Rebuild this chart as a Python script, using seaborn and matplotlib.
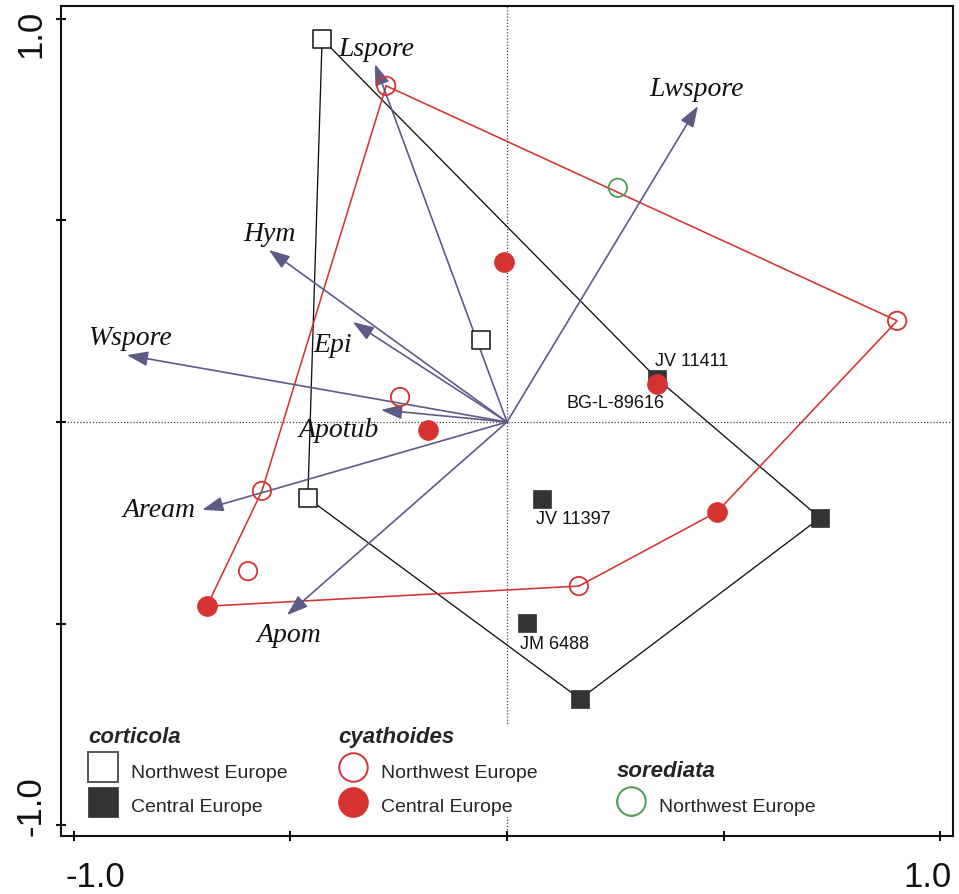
import numpy as np
import pandas as pd
import matplotlib
matplotlib.use("Agg")
import matplotlib.pyplot as plt
import matplotlib.transforms as mtransforms
from matplotlib.lines import Line2D
import seaborn as sns

# ---------------- data: sample scores ----------------
cort_nw_x = [-0.427, -0.060, -0.460]
cort_nw_y = [0.950, 0.203, -0.189]
cort_ce_x = [0.347, 0.081, 0.046, 0.169, 0.723]
cort_ce_y = [0.107, -0.191, -0.499, -0.687, -0.238]
cort_ce_names = ["JV 11411", "JV 11397", "JM 6488", "", ""]

cyat_nw_x = [-0.279, 0.901, -0.247, -0.566, -0.598, 0.166]
cyat_nw_y = [0.834, 0.251, 0.062, -0.171, -0.370, -0.407]
cyat_ce_x = [-0.007, -0.182, 0.346, 0.485, -0.693]
cyat_ce_y = [0.397, -0.020, 0.094, -0.223, -0.457]
cyat_ce_names = ["", "", "BG-L-89616", "", ""]

sore_nw_x = [0.256]
sore_nw_y = [0.581]

# envelope vertex order (group, index)
cort_envelope = [("cort_nw", 0), ("cort_ce", 0), ("cort_ce", 4), ("cort_ce", 3), ("cort_nw", 2)]
cyat_envelope = [("cyat_nw", 0), ("cyat_nw", 1), ("cyat_ce", 3), ("cyat_nw", 5),
                 ("cyat_ce", 4), ("cyat_nw", 3)]

# ---------------- data: variable (arrow) scores ----------------
var_names = ["Lspore", "Lwspore", "Hym", "Epi", "Wspore", "Apotub", "Aream", "Apom"]
var_x = [-0.305, 0.441, -0.550, -0.356, -0.878, -0.291, -0.704, -0.508]
var_y = [0.888, 0.784, 0.427, 0.248, 0.166, 0.030, -0.218, -0.479]

axis_ticks = [-1.0, -0.5, 0.0, 0.5, 1.0]
axis_ticklabels = ["-1.0", "", "", "", "1.0"]

# ---------------- styling ----------------
RED = "#d63232"
DARK = "#333333"
ARROW = "#5e5a86"
GREEN = "#4e9a55"
SANS = "Liberation Sans"
SERIF = "Liberation Serif"

# label offsets in pixels (dx, dy, ha)
var_label_offsets = {
    "Lspore": (1, 16, "center"), "Lwspore": (-1, 17, "center"), "Hym": (1, 16, "center"),
    "Epi": (-20, -22, "center"), "Wspore": (3, 18, "center"), "Apotub": (-42, -20, "center"),
    "Aream": (-7, 0, "right"), "Apom": (2, -19, "center"),
}
name_offsets = {
    "JV 11411": (-2, 18, "left"), "JV 11397": (-6, -19, "left"),
    "JM 6488": (-7, -20, "left"), "BG-L-89616": (8, -18, "right"),
}

sns.set_style("white")
plt.rcParams["font.family"] = [SANS, "DejaVu Sans"]

groups = {
    "cort_nw": (cort_nw_x, cort_nw_y), "cort_ce": (cort_ce_x, cort_ce_y),
    "cyat_nw": (cyat_nw_x, cyat_nw_y), "cyat_ce": (cyat_ce_x, cyat_ce_y),
    "sore_nw": (sore_nw_x, sore_nw_y),
}
rows = []
for g, (xs, ys) in groups.items():
    for i, (xv, yv) in enumerate(zip(xs, ys)):
        rows.append({"group": g, "idx": i, "x": xv, "y": yv})
df = pd.DataFrame(rows)

fig = plt.figure(figsize=(9.59, 8.95), dpi=100)
ax = fig.add_axes([61 / 959, 58 / 895, 892 / 959, 830 / 895])
ax.set_xlim(-1.030, 1.030)
ax.set_ylim(-1.027, 1.032)

ax.axhline(0, ls=(0, (1, 1.5)), color="#444444", lw=0.9, zorder=0.5)
ax.axvline(0, ls=(0, (1, 1.5)), color="#444444", lw=0.9, zorder=0.5)

# envelopes
def envelope(order, color, lw):
    pts = [df[(df.group == g) & (df.idx == i)][["x", "y"]].values[0] for g, i in order]
    pts.append(pts[0])
    pts = np.array(pts)
    ax.plot(pts[:, 0], pts[:, 1], color=color, lw=lw, zorder=2, solid_joinstyle="miter")

envelope(cort_envelope, "#111111", 0.95)
envelope(cyat_envelope, RED, 1.15)

# arrows
for name, vx, vy in zip(var_names, var_x, var_y):
    ax.annotate("", xy=(vx, vy), xytext=(0, 0),
                arrowprops=dict(arrowstyle="-|>,head_length=0.8,head_width=0.28",
                                mutation_scale=16, color=ARROW, lw=1.2,
                                shrinkA=0, shrinkB=0), zorder=3)
    dx, dy, ha = var_label_offsets[name]
    ax.annotate(name, xy=(vx, vy), xytext=(dx, dy), textcoords="offset pixels",
                ha=ha, va="center", fontsize=20, fontstyle="italic",
                family=[SERIF, "DejaVu Serif"], color="#111111", zorder=6)

# sample points
styles = {
    "cort_nw": dict(marker="s", s=165, color="#111111", facecolor="white", edgecolor="#111111", linewidth=1.1),
    "cort_ce": dict(marker="s", s=150, color=DARK, facecolor=DARK, edgecolor=DARK, linewidth=0.5),
    "cyat_nw": dict(marker="o", s=175, color=RED, facecolor="none", edgecolor=RED, linewidth=1.3),
    "cyat_ce": dict(marker="o", s=205, color=RED, facecolor=RED, edgecolor=RED, linewidth=0.5),
    "sore_nw": dict(marker="o", s=175, color=GREEN, facecolor="none", edgecolor=GREEN, linewidth=1.3),
}
for g in ["cort_nw", "cort_ce", "cyat_nw", "cyat_ce", "sore_nw"]:
    sub = df[df.group == g]
    sns.scatterplot(data=sub, x="x", y="y", ax=ax, zorder=4, legend=False, **styles[g])

for names, xs, ys in [(cort_ce_names, cort_ce_x, cort_ce_y), (cyat_ce_names, cyat_ce_x, cyat_ce_y)]:
    for nm, xv, yv in zip(names, xs, ys):
        if nm:
            dx, dy, ha = name_offsets[nm]
            ax.annotate(nm, xy=(xv, yv), xytext=(dx, dy), textcoords="offset pixels",
                        ha=ha, va="center", fontsize=13, family=[SANS], color="#111111", zorder=6)

ax.set_xlabel("")
ax.set_ylabel("")

# axes, ticks
ax.set_xticks(axis_ticks)
ax.set_xticklabels(axis_ticklabels, fontsize=25, family=SANS)
ax.set_yticks(axis_ticks)
ax.set_yticklabels(axis_ticklabels, fontsize=25, family=SANS, rotation=90, va="center")
ax.tick_params(bottom=True, left=True, top=False, right=False,
               direction="inout", length=7, width=1.5, color="#111111", labelcolor="#111111")
ax.tick_params(axis="x", pad=14)
ax.tick_params(axis="y", pad=6)
for sp in ax.spines.values():
    sp.set_linewidth(1.5)
    sp.set_color("#111111")

def shift(label, dx_px, dy_px):
    label.set_transform(label.get_transform() +
                        mtransforms.ScaledTranslation(dx_px / 100, dy_px / 100, fig.dpi_scale_trans))

xl = ax.get_xticklabels()
shift(xl[0], 21, 0)
shift(xl[-1], -13, 0)
yl = ax.get_yticklabels()
shift(yl[0], 0, 20)
shift(yl[-1], 0, -14)

# legends
def make_legend(handles, labels, title, anchor):
    leg = ax.legend(handles, labels, title=title, loc="upper left", bbox_to_anchor=anchor,
                    bbox_transform=ax.transAxes, frameon=True, fancybox=False, framealpha=1,
                    edgecolor="none", facecolor="white", borderpad=0, handlelength=1.5,
                    handleheight=1.5, handletextpad=0.7, labelspacing=0.56, borderaxespad=0,
                    alignment="left", prop={"family": SANS, "size": 14},
                    title_fontproperties={"family": SANS, "size": 16, "weight": "bold",
                                          "style": "italic"})
    leg.set_zorder(7)
    ax.add_artist(leg)
    return leg

h_sq_open = Line2D([], [], marker="s", ls="none", markersize=21, markerfacecolor="white",
                   markeredgecolor="#555555", markeredgewidth=1.4)
h_sq_fill = Line2D([], [], marker="s", ls="none", markersize=21, markerfacecolor=DARK,
                   markeredgecolor=DARK, markeredgewidth=0.5)
h_ci_open = Line2D([], [], marker="o", ls="none", markersize=20.5, markerfacecolor="none",
                   markeredgecolor=RED, markeredgewidth=1.4)
h_ci_fill = Line2D([], [], marker="o", ls="none", markersize=21.5, markerfacecolor=RED,
                   markeredgecolor=RED, markeredgewidth=0.5)
h_gr_open = Line2D([], [], marker="o", ls="none", markersize=20.5, markerfacecolor="none",
                   markeredgecolor=GREEN, markeredgewidth=1.4)

make_legend([h_sq_open, h_sq_fill], ["Northwest Europe", "Central Europe"], "corticola",
            (0.0308, 0.132))
make_legend([h_ci_open, h_ci_fill], ["Northwest Europe", "Central Europe"], "cyathoides",
            (0.311, 0.132))
make_legend([h_gr_open], ["Northwest Europe"], "sorediata", (0.6228, 0.091))

fig.savefig("out.png", dpi=100, facecolor="white")
